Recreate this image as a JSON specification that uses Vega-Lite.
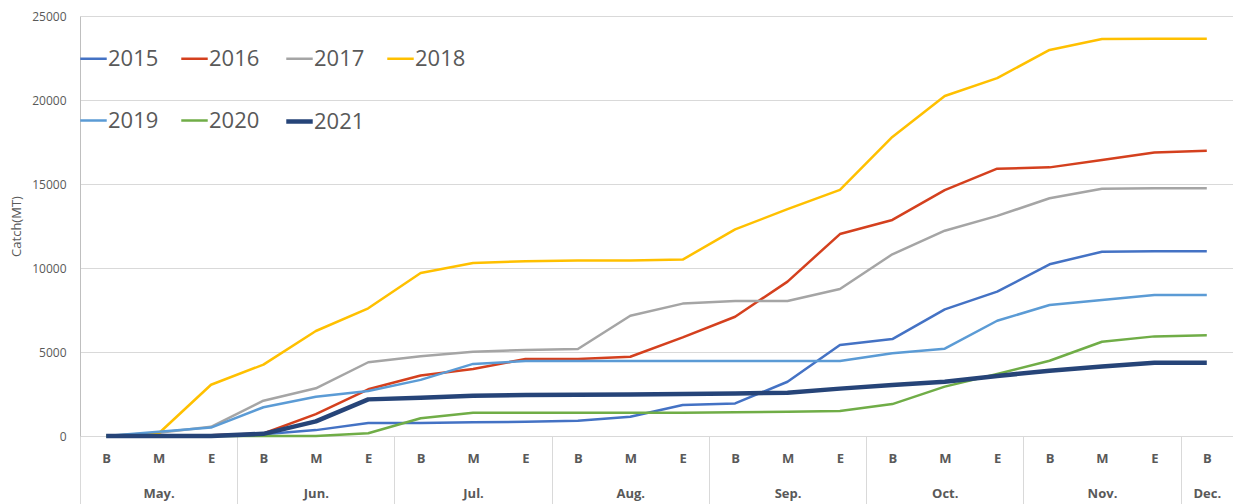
{
  "$schema": "https://vega.github.io/schema/vega-lite/v6.json",
  "width": 1153,
  "height": 420,
  "autosize": "none",
  "padding": {"left": 80, "top": 16, "right": 0, "bottom": 68},
  "background": "white",
  "config": {"view": {"stroke": null}, "font": "Open Sans"},
  "data": {"values": [
    {"idx": 0, "2015": 0, "2016": 0, "2017": 0, "2018": 0, "2019": 0, "2020": 0, "2021": 0},
    {"idx": 1, "2015": 50, "2016": 0, "2017": 200, "2018": 150, "2019": 250, "2020": 0, "2021": 0},
    {"idx": 2, "2015": 50, "2016": 50, "2017": 550, "2018": 3050, "2019": 500, "2020": 0, "2021": 0},
    {"idx": 3, "2015": 100, "2016": 150, "2017": 2100, "2018": 4250, "2019": 1710, "2020": 0, "2021": 130},
    {"idx": 4, "2015": 350, "2016": 1300, "2017": 2840, "2018": 6250, "2019": 2340, "2020": 0, "2021": 870},
    {"idx": 5, "2015": 770, "2016": 2780, "2017": 4390, "2018": 7600, "2019": 2680, "2020": 160, "2021": 2180},
    {"idx": 6, "2015": 780, "2016": 3600, "2017": 4750, "2018": 9700, "2019": 3340, "2020": 1060, "2021": 2280},
    {"idx": 7, "2015": 815, "2016": 3990, "2017": 5020, "2018": 10300, "2019": 4290, "2020": 1390, "2021": 2400},
    {"idx": 8, "2015": 850, "2016": 4580, "2017": 5120, "2018": 10400, "2019": 4460, "2020": 1390, "2021": 2440},
    {"idx": 9, "2015": 910, "2016": 4580, "2017": 5180, "2018": 10450, "2019": 4460, "2020": 1390, "2021": 2450},
    {"idx": 10, "2015": 1150, "2016": 4720, "2017": 7160, "2018": 10450, "2019": 4460, "2020": 1390, "2021": 2470},
    {"idx": 11, "2015": 1845, "2016": 5870, "2017": 7880, "2018": 10500, "2019": 4460, "2020": 1390, "2021": 2500},
    {"idx": 12, "2015": 1940, "2016": 7100, "2017": 8040, "2018": 12300, "2019": 4460, "2020": 1410, "2021": 2530},
    {"idx": 13, "2015": 3230, "2016": 9190, "2017": 8040, "2018": 13500, "2019": 4460, "2020": 1450, "2021": 2580},
    {"idx": 14, "2015": 5420, "2016": 12020, "2017": 8750, "2018": 14650, "2019": 4460, "2020": 1490, "2021": 2820},
    {"idx": 15, "2015": 5770, "2016": 12860, "2017": 10815, "2018": 17800, "2019": 4920, "2020": 1900, "2021": 3040},
    {"idx": 16, "2015": 7540, "2016": 14640, "2017": 12220, "2018": 20240, "2019": 5200, "2020": 2940, "2021": 3230},
    {"idx": 17, "2015": 8590, "2016": 15910, "2017": 13100, "2018": 21300, "2019": 6860, "2020": 3690, "2021": 3570},
    {"idx": 18, "2015": 10220, "2016": 15990, "2017": 14150, "2018": 22980, "2019": 7800, "2020": 4480, "2021": 3890},
    {"idx": 19, "2015": 10970, "2016": 16430, "2017": 14720, "2018": 23630, "2019": 8100, "2020": 5610, "2021": 4130},
    {"idx": 20, "2015": 11000, "2016": 16880, "2017": 14750, "2018": 23650, "2019": 8390, "2020": 5930, "2021": 4360},
    {"idx": 21, "2015": 11000, "2016": 16980, "2017": 14750, "2018": 23650, "2019": 8390, "2020": 5990, "2021": 4360}
  ]},
  "transform": [{"fold": ["2015", "2016", "2017", "2018", "2019", "2020", "2021"], "as": ["year", "catch"]}],
  "layer": [
    {
      "mark": {"type": "line", "strokeJoin": "round"},
      "encoding": {
        "x": {"field": "idx", "type": "quantitative",
          "scale": {"domain": [-0.5, 21.5], "nice": false, "zero": false},
          "axis": {"title": null, "values": [0,1,2,3,4,5,6,7,8,9,10,11,12,13,14,15,16,17,18,19,20,21],
            "labelExpr": "['B','M','E'][datum.value % 3]", "ticks": false, "grid": false,
            "domain": true, "domainColor": "#d9d9d9", "labelFontSize": 13, "labelFontWeight": "bold",
            "labelColor": "#595959", "labelPadding": 16, "labelFlush": false, "labelOverlap": false}},
        "y": {"field": "catch", "type": "quantitative",
          "scale": {"domain": [0, 25000], "nice": false},
          "axis": {"title": "Catch(MT)", "values": [0, 5000, 10000, 15000, 20000, 25000], "format": "d",
            "grid": true, "gridColor": "#d9d9d9", "ticks": false, "domainColor": "#bfbfbf",
            "labelColor": "#595959", "labelFontSize": 12, "labelPadding": 14,
            "titleFontSize": 13, "titleFontWeight": "normal", "titleColor": "#595959", "titlePadding": 8}},
        "color": {"field": "year", "type": "nominal",
          "scale": {"domain": ["2015", "2016", "2017", "2018", "2019", "2020", "2021"],
            "range": ["#4472C4", "#D4401E", "#A5A5A5", "#FFC000", "#5B9BD5", "#70AD47", "#264478"]},
          "legend": {"title": null, "orient": "none", "legendX": -2, "legendY": 28, "direction": "horizontal",
            "columns": 4, "symbolType": "stroke", "symbolSize": 700, "labelFontSize": 22,
            "labelColor": "#595959", "rowPadding": 36, "columnPadding": 17, "labelOffset": -1, "padding": 0}},
        "strokeWidth": {"field": "year", "type": "nominal",
          "scale": {"type": "ordinal", "domain": ["2015", "2016", "2017", "2018", "2019", "2020", "2021"],
            "range": [2.5, 2.5, 2.5, 2.5, 2.5, 2.5, 4.5]}}
      }
    },
    {
      "mark": {"type": "point", "opacity": 0},
      "encoding": {
        "x": {"field": "idx", "type": "quantitative",
          "axis": {"orient": "bottom", "title": null, "values": [1, 4, 7, 10, 13, 16, 19, 21],
            "labelExpr": "['May.','Jun.','Jul.','Aug.','Sep.','Oct.','Nov.','Dec.'][floor((datum.value + 1) / 3)]",
            "ticks": false, "grid": false, "domain": false, "labelFontSize": 13, "labelFontWeight": "bold",
            "labelColor": "#595959", "labelPadding": 51, "labelFlush": false, "labelOverlap": false}},
        "y": {"field": "catch", "type": "quantitative"}
      }
    },
    {
      "mark": {"type": "point", "opacity": 0},
      "encoding": {
        "x": {"field": "idx", "type": "quantitative",
          "axis": {"orient": "bottom", "title": null, "values": [-0.5, 2.5, 5.5, 8.5, 11.5, 14.5, 17.5, 20.5],
            "labels": false, "ticks": true, "tickSize": 70, "tickColor": "#d9d9d9", "grid": false, "domain": false}},
        "y": {"field": "catch", "type": "quantitative"}
      }
    }
  ],
  "resolve": {"axis": {"x": "independent"}}
}
